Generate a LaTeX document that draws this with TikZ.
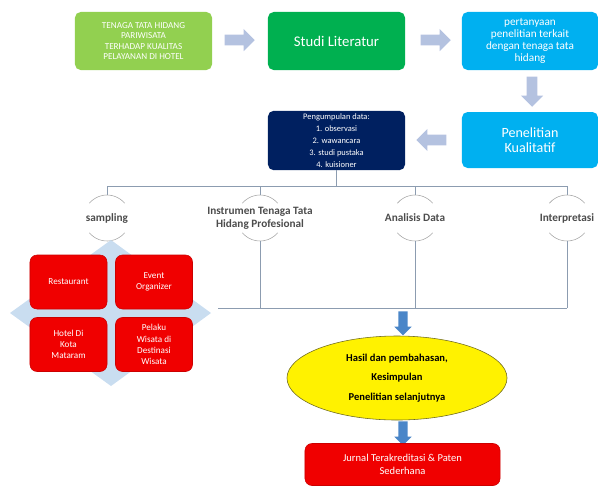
\documentclass[tikz,border=0pt]{standalone}
\usepackage{fontspec}
\setmainfont{Carlito}
\usetikzlibrary{shapes.geometric,shapes.arrows}
\definecolor{lightgreen}{HTML}{92D050}
\definecolor{darkgreen}{HTML}{00B050}
\definecolor{skyblue}{HTML}{00B0F0}
\definecolor{navy}{HTML}{002060}
\definecolor{boxred}{HTML}{F00000}
\definecolor{arrowgray}{HTML}{B4C2E0}
\definecolor{arrowblue}{HTML}{4A86C8}
\definecolor{treeline}{HTML}{8C9CB0}
\definecolor{diamondblue}{HTML}{C9DDF0}

\begin{document}
\begin{tikzpicture}[x=0.025cm,y=0.025cm,
    box/.style={rounded corners=4pt, text=white, align=center, minimum width=3.425cm, minimum height=1.45cm, inner sep=2pt},
    grayarrow/.style={single arrow, fill=arrowgray, minimum height=0.75cm, single arrow head extend=0.14cm, inner sep=0.13cm},
    bluearrow/.style={single arrow, fill=arrowblue, shape border rotate=270, minimum height=0.6cm, single arrow head extend=0.1cm, inner sep=0.11cm},
    redcell/.style={rounded corners=5pt, fill=boxred, draw=red!80!black, thin, text=white, align=center, minimum width=1.925cm, minimum height=1.35cm, font=\fontsize{6.5}{8}\selectfont},
    stage/.style={align=center, inner sep=1pt, font=\fontsize{8}{9}\selectfont\bfseries, text=black!70},
    stagearc/.style={draw=black!35, thin},
    tree/.style={draw=treeline, semithick}]
    \useasboundingbox (0,0) rectangle (598,-489);

    % Top row
    \node[box, fill=lightgreen, font=\fontsize{6.5}{7.5}\selectfont] (topik) at (143.5,-41) {TENAGA TATA HIDANG\\PARIWISATA\\TERHADAP KUALITAS\\PELAYANAN DI HOTEL};
    \node[box, fill=darkgreen, font=\fontsize{10.5}{12}\selectfont] (studi) at (336.5,-41) {Studi Literatur};
    \node[box, fill=skyblue, minimum width=3.4cm, font=\fontsize{8}{8.5}\selectfont] (tanya) at (530,-41) {pertanyaan\\penelitian terkait\\dengan tenaga tata\\hidang};

    % Second row
    \node[box, fill=skyblue, minimum width=3.4cm, minimum height=1.4cm, font=\fontsize{10}{11}\selectfont] (kual) at (530,-140) {Penelitian\\Kualitatif};
    \node[box, fill=navy, font=\fontsize{6}{8.5}\selectfont] (kumpul) at (336.5,-140.5) {Pengumpulan data:\\1. observasi\\2. wawancara\\3. studi pustaka\\4. kuisioner};

    % Block arrows
    \node[grayarrow] (a1) at (237,-40) {};
    \node[grayarrow] (a2) at (433,-40) {};
    \node[grayarrow, shape border rotate=270] (a3) at (532,-89) {};
    \node[grayarrow, shape border rotate=180] (a4) at (434,-140) {};

    % Tree
    \coordinate (b1) at (107,-186);
    \coordinate (b4) at (567,-186);
    \draw[tree] (b1) -- (b4);
    \draw[tree] (kumpul.south) -- (kumpul.south |- b1);

    \node[stage] (samp) at (107,-218) {sampling};
    \node[stage] (instr) at (260,-218) {Instrumen Tenaga Tata\\Hidang Profesional};
    \node[stage] (anal) at (415,-218) {Analisis Data};
    \node[stage] (interp) at (567,-218) {Interpretasi};

    \foreach \s in {samp,instr,anal,interp} {
        \draw[tree] (\s.center |- b1) -- ([yshift=0.575cm]\s.center);
        \draw[stagearc] ([shift={(40:0.575cm)}]\s.center) arc[start angle=40,end angle=140,radius=0.575cm];
        \draw[stagearc] ([shift={(220:0.575cm)}]\s.center) arc[start angle=220,end angle=320,radius=0.575cm];
    }

    \coordinate (c1) at (218,-308);
    \coordinate (c4) at (567,-308);
    \draw[tree] (c1) -- (c4);
    \foreach \s in {instr,anal,interp} {
        \draw[tree] ([yshift=-0.575cm]\s.center) -- (\s.center |- c1);
    }

    % Sampling matrix
    \fill[diamondblue] (10,-313) -- (111,-240) -- (211,-313) -- (111,-386) -- cycle;
    \node[redcell] (resto) at (68.5,-282) {Restaurant};
    \node[redcell] (event) at (154,-282) {Event\\Organizer};
    \node[redcell] (hotel) at (68.5,-344.5) {Hotel Di\\Kota\\Mataram};
    \node[redcell] (pelaku) at (154,-344.5) {Pelaku\\Wisata di\\Destinasi\\Wisata};

    % Results
    \node[bluearrow] (d1) at (403,-321) {};
    \node[ellipse, draw=olive!70!black, fill=yellow, minimum width=5.5cm, minimum height=2.1cm, align=center, font=\fontsize{7.5}{14}\selectfont\bfseries] (hasil) at (397,-378) {Hasil dan pembahasan,\\Kesimpulan\\Penelitian selanjutnya};
    \node[bluearrow] (d2) at (403,-431) {};
    \node[redcell, minimum width=4.875cm, minimum height=1.05cm, font=\fontsize{7.5}{9}\selectfont] (jurnal) at (402.5,-464.5) {Jurnal Terakreditasi \& Paten\\Sederhana};
\end{tikzpicture}
\end{document}
